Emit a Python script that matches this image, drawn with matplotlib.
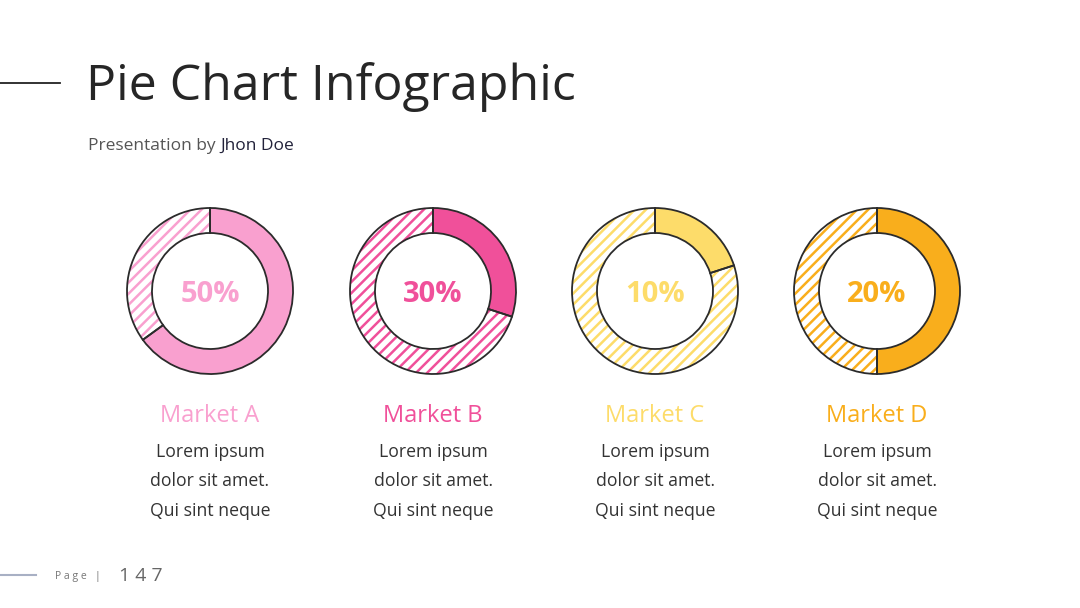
import matplotlib
matplotlib.use("Agg")
import matplotlib.pyplot as plt
from matplotlib.lines import Line2D

# ---- data ----
markets = ["Market A", "Market B", "Market C", "Market D"]
filled_share = [65, 30, 20, 50]          # filled part of each ring (percent)
pct_labels = ["50%", "30%", "10%", "20%"]
colors = ["#F9A0CF", "#F0509A", "#FDDC6A", "#F9AE1C"]
desc_lines = ["Lorem ipsum", "dolor sit amet.", "Qui sint neque"]
title = "Pie Chart Infographic"
subtitle_a = "Presentation by "
subtitle_b = "Jhon Doe"
page_no = "147"

W, H = 1080, 608
FONT = "Open Sans"
plt.rcParams["hatch.linewidth"] = 1.8

fig = plt.figure(figsize=(W / 100, H / 100), dpi=100)
fig.patch.set_facecolor("white")
ax = fig.add_axes([0, 0, 1, 1])

centers_x = [210, 433, 655, 877]
cy = H - 291
R_out, ring_w = 83, 25

def Y(y):
    return H - y

for i, (val, col) in enumerate(zip(filled_share, colors)):
    cx = centers_x[i]
    vals = [val, 100 - val]
    w1, _ = ax.pie(vals, center=(cx, cy), radius=R_out, startangle=90,
                   counterclock=False,
                   wedgeprops=dict(width=ring_w, linewidth=0))
    w1[0].set_facecolor(col)
    w1[0].set_edgecolor(col)
    w1[1].set_facecolor("white")
    w1[1].set_edgecolor(col)
    w1[1].set_hatch("///")
    ax.pie(vals, center=(cx, cy), radius=R_out, startangle=90,
           counterclock=False,
           wedgeprops=dict(width=ring_w, linewidth=1.3, edgecolor="#2b2b2b",
                           facecolor="none"))

ax.set_xlim(0, W)
ax.set_ylim(0, H)
ax.set_aspect("auto")
ax.axis("off")

for i, col in enumerate(colors):
    cx = centers_x[i]
    ax.text(cx, Y(291), pct_labels[i], ha="center", va="center_baseline",
            color=col, fontsize=21, fontweight="bold", family=FONT)
    ax.text(cx, Y(413), markets[i], ha="center", va="center_baseline",
            color=col, fontsize=17, family=FONT)
    for j, line in enumerate(desc_lines):
        ax.text(cx, Y(450 + j * 29.5), line, ha="center", va="center_baseline",
                color="#333333", fontsize=12.7, family=FONT)

# title & header
ax.add_line(Line2D([0, 60], [Y(83), Y(83)], color="#222222", lw=1.3))
ax.text(86, Y(81), title, ha="left", va="center_baseline", color="#262626",
        fontsize=36, family=FONT)
t1 = ax.text(88, Y(144), subtitle_a, ha="left", va="center_baseline",
             color="#555555", fontsize=12.5, family=FONT)
fig.canvas.draw()
bb = t1.get_window_extent()
x_end = ax.transData.inverted().transform((bb.x1, bb.y0))[0]
ax.text(x_end, Y(144), subtitle_b, ha="left", va="center_baseline",
        color="#22223a", fontsize=12.5, family=FONT)

# footer
ax.add_line(Line2D([0, 36], [Y(575), Y(575)], color="#a8b0c4", lw=1.5))
ax.text(55, Y(576), "P a g e   |", ha="left", va="center", color="#777777",
        fontsize=7.5, family=FONT)
ax.text(119, Y(576), " ".join(page_no), ha="left", va="center",
        color="#666666", fontsize=14, family=FONT)

fig.savefig("out.png", dpi=100, facecolor="white")
